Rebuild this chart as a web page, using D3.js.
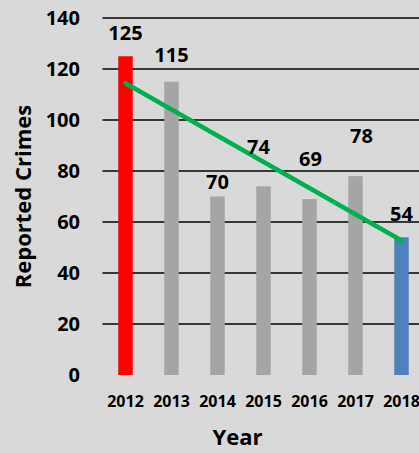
<!DOCTYPE html>
<html>
<head>
<meta charset="utf-8">
<script src="https://cdn.jsdelivr.net/npm/d3@7"></script>
<style>
  html, body { margin: 0; padding: 0; background: #d9d9d9; }
  svg { display: block; font-family: "Open Sans", sans-serif; font-weight: bold; }
</style>
</head>
<body>
<svg id="chart" width="419" height="453"></svg>
<script>
// data
const years = ["2012", "2013", "2014", "2015", "2016", "2017", "2018"];
const crimes = [125, 115, 70, 74, 69, 78, 54];
const yTicks = [0, 20, 40, 60, 80, 100, 120, 140];

// labels were hand placed in the original, keep their lift (px above bar top) and nudge
const labelLift = [23, 27, 15, 40, 40, 40, 24];
const labelNudge = [0, 0, 0, -5, 1, 6, 0];

const svg = d3.select("#chart");

const x = d3.scaleBand()
	.domain(years)
	.range([102.5, 424.5])
	.paddingInner(0.685)
	.paddingOuter(0.3425);

const y = d3.scaleLinear()
	.domain([0, 140])
	.range([375, 18]);

const barColor = (d, i) => i === 0 ? "#ff0000" : (i === years.length - 1 ? "#4f81bd" : "#a5a5a5");

// gridlines (none at zero)
svg.append("g")
	.selectAll("line")
	.data(yTicks.filter(t => t > 0))
	.enter()
	.append("line")
	.attr("x1", 102.5)
	.attr("x2", 419)
	.attr("y1", d => y(d))
	.attr("y2", d => y(d))
	.attr("stroke", "#000")
	.attr("stroke-width", 1.5);

// y tick labels
svg.append("g")
	.selectAll("text")
	.data(yTicks)
	.enter()
	.append("text")
	.attr("x", 80)
	.attr("y", d => y(d))
	.attr("dy", "0.36em")
	.attr("text-anchor", "end")
	.attr("font-size", 20)
	.attr("fill", "#000")
	.text(d => d);

// bars
svg.append("g")
	.selectAll("rect")
	.data(crimes)
	.enter()
	.append("rect")
	.attr("x", (d, i) => x(years[i]))
	.attr("width", x.bandwidth())
	.attr("y", d => y(d))
	.attr("height", d => y(0) - y(d))
	.attr("fill", barColor);

// linear trend line (least squares over the bars)
const n = crimes.length;
const xs = d3.range(n);
const mx = d3.mean(xs), my = d3.mean(crimes);
const slope = d3.sum(xs, i => (i - mx) * (crimes[i] - my)) / d3.sum(xs, i => (i - mx) * (i - mx));
const icpt = my - slope * mx;
const cx = i => x(years[i]) + x.bandwidth() / 2;

svg.append("line")
	.attr("x1", cx(0))
	.attr("y1", y(icpt))
	.attr("x2", cx(n - 1))
	.attr("y2", y(icpt + slope * (n - 1)))
	.attr("stroke", "#00b050")
	.attr("stroke-width", 4.5)
	.attr("stroke-linecap", "round");

// data labels
svg.append("g")
	.selectAll("text")
	.data(crimes)
	.enter()
	.append("text")
	.attr("x", (d, i) => cx(i) + labelNudge[i])
	.attr("y", (d, i) => y(d) - labelLift[i])
	.attr("dy", "0.36em")
	.attr("text-anchor", "middle")
	.attr("font-size", 20)
	.attr("fill", "#000")
	.text(d => d);

// x tick labels
svg.append("g")
	.selectAll("text")
	.data(years)
	.enter()
	.append("text")
	.attr("x", d => x(d) + x.bandwidth() / 2)
	.attr("y", 401)
	.attr("dy", "0.36em")
	.attr("text-anchor", "middle")
	.attr("font-size", 16)
	.attr("fill", "#000")
	.text(d => d);

// axis titles
svg.append("text")
	.attr("x", 237.5)
	.attr("y", 445)
	.attr("text-anchor", "middle")
	.attr("font-size", 22)
	.attr("fill", "#000")
	.text("Year");

svg.append("text")
	.attr("transform", "translate(31,196.5) rotate(-90)")
	.attr("text-anchor", "middle")
	.attr("font-size", 22)
	.attr("fill", "#000")
	.text("Reported Crimes");
</script>
</body>
</html>
